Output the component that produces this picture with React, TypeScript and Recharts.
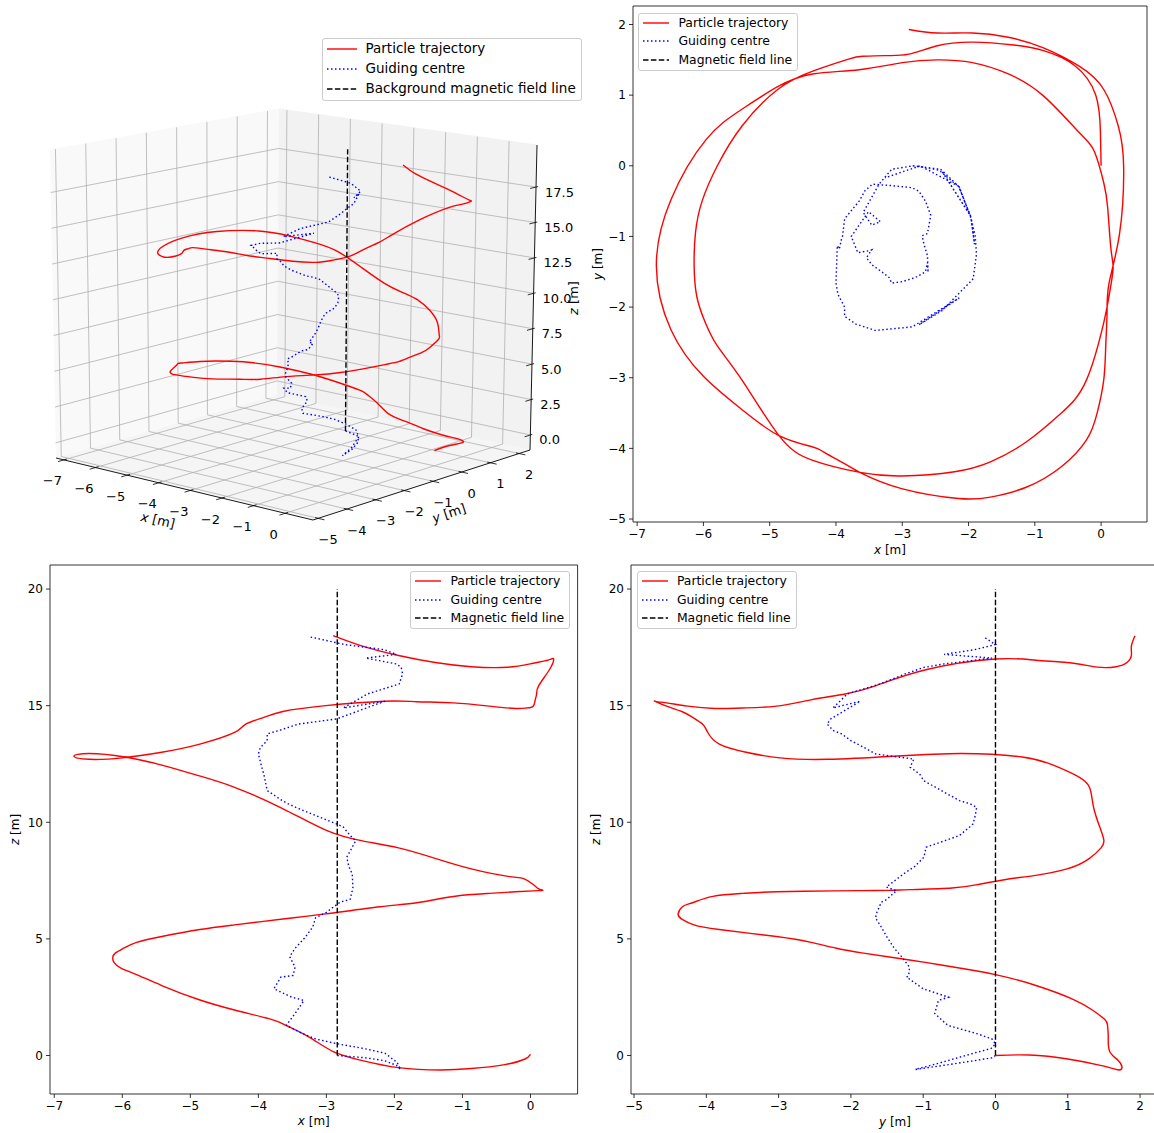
import React from "react";
import {
  LineChart,
  Line,
  XAxis,
  YAxis,
  Legend,
  ReferenceArea,
  ScatterChart,
  Scatter,
} from "recharts";

const FONT = '"DejaVu Sans", "Liberation Sans", sans-serif';
const RED = "#ff0000";
const BLUE = "#0000ff";
const BLACK = "#000000";
const DOTTED = "1.5 2.5";
const DASHED = "5.5 2.4";

// particle trajectory [x, y, z] in metres, in time order
const trajectory: number[][] = [
  [0, 0, 0], [-0.01, 0.47, 0.02], [-0.08, 1.0, -0.15], [-0.4, 1.42, -0.4],
  [-0.87, 1.63, -0.56], [-1.32, 1.71, -0.62], [-1.94, 1.75, -0.52], [-2.47, 1.7, -0.22],
  [-2.9, 1.58, 0.17], [-3.26, 1.56, 0.8], [-3.6, 1.55, 1.3], [-3.81, 1.51, 1.55],
  [-4.35, 1.34, 1.95], [-4.88, 1.08, 2.4], [-5.42, 0.56, 3.0], [-5.79, 0.0, 3.47],
  [-6.02, -0.5, 3.75], [-6.12, -0.95, 3.98], [-6.14, -1.42, 4.2], [-6.1, -1.85, 4.4],
  [-5.98, -2.2, 4.6], [-5.79, -2.55, 4.85], [-5.42, -3.03, 5.1], [-4.86, -3.82, 5.4],
  [-4.35, -4.17, 5.6], [-3.64, -4.34, 5.85], [-3.01, -4.39, 6.07], [-2.21, -4.33, 6.38],
  [-1.67, -4.19, 6.55], [-1.13, -3.91, 6.82], [-0.6, -3.5, 6.95], [-0.22, -3.03, 7.02],
  [0.04, -2.22, 7.06], [0.12, -1.84, 7.07], [0.18, -1.47, 7.08], [0.15, -1.19, 7.11],
  [0.1, -0.6, 7.18], [0.04, -0.24, 7.33], [-0.1, 0.2, 7.58], [-0.33, 0.47, 7.68],
  [-0.87, 0.99, 8.0], [-1.4, 1.3, 8.45], [-1.94, 1.46, 8.9], [-2.47, 1.5, 9.2],
  [-3.0, 1.46, 9.65], [-3.65, 1.36, 10.6], [-4.35, 1.3, 11.5], [-4.88, 1.12, 12.0],
  [-5.42, 0.8, 12.45], [-5.96, 0.37, 12.8], [-6.49, -0.48, 12.95], [-6.71, -1.42, 12.83],
  [-6.49, -2.32, 12.7], [-6.0, -2.98, 12.76], [-5.42, -3.45, 13.0], [-4.86, -3.82, 13.35],
  [-4.35, -3.98, 13.85], [-4.19, -4.05, 14.2], [-3.92, -4.19, 14.5], [-3.64, -4.34, 14.75],
  [-3.01, -4.57, 15.0], [-2.15, -4.71, 15.19], [-1.67, -4.69, 15.17], [-1.13, -4.55, 15.12],
  [-0.6, -4.26, 14.98], [-0.22, -3.88, 14.88], [-0.06, -3.5, 14.9], [0.04, -3.03, 14.98],
  [0.07, -2.55, 15.25], [0.09, -2.08, 15.5], [0.12, -1.66, 15.85], [0.28, -0.95, 16.55],
  [0.34, 0.0, 17.0], [0.26, 0.56, 16.95], [0.04, 1.08, 16.82], [-0.33, 1.41, 16.65],
  [-0.87, 1.67, 16.67], [-1.4, 1.82, 16.85], [-1.94, 1.88, 17.15], [-2.47, 1.88, 17.55],
  [-2.9, 1.93, 18.0],
];

// guiding centre [x, y, z]
const guidingCentre: number[][] = [
  [-2.84, 0.0, 0.0], [-2.42, -0.05, -0.1], [-2.15, -0.29, -0.22], [-1.97, -0.71, -0.42],
  [-1.91, -1.11, -0.6], [-1.96, -0.75, -0.3], [-2.14, -0.3, 0.1], [-2.45, -0.06, 0.3],
  [-2.84, 0.0, 0.5], [-3.16, -0.05, 0.71], [-3.35, -0.26, 0.94], [-3.59, -0.66, 1.29],
  [-3.46, -0.84, 1.8], [-3.33, -0.79, 2.36], [-3.51, -0.65, 2.5], [-3.77, -1.0, 2.86],
  [-3.67, -1.23, 3.36], [-3.49, -1.2, 3.43], [-3.46, -1.19, 3.79], [-3.54, -1.3, 4.24],
  [-3.46, -1.4, 4.6], [-3.31, -1.5, 5.07], [-3.2, -1.58, 5.51], [-3.16, -1.66, 5.9],
  [-3.0, -1.64, 6.14], [-2.8, -1.58, 6.57], [-2.65, -1.5, 6.7], [-2.62, -1.37, 7.07],
  [-2.61, -1.51, 7.22], [-2.62, -1.27, 7.79], [-2.67, -1.12, 8.1], [-2.7, -0.99, 8.5],
  [-2.62, -0.96, 8.93], [-2.57, -0.7, 9.21], [-2.65, -0.5, 9.43], [-2.75, -0.36, 9.79],
  [-2.85, -0.31, 9.93], [-3.16, -0.28, 10.29], [-3.45, -0.26, 10.64], [-3.56, -0.35, 10.79],
  [-3.65, -0.5, 10.93], [-3.87, -0.75, 11.36], [-3.9, -0.99, 11.78], [-3.92, -1.05, 12.07],
  [-3.95, -1.18, 12.36], [-3.98, -1.13, 12.71], [-4.0, -1.66, 12.93], [-3.97, -1.82, 13.21],
  [-3.87, -2.0, 13.5], [-3.87, -2.13, 13.79], [-3.7, -2.24, 13.93], [-3.41, -2.33, 14.21],
  [-2.85, -2.28, 14.43], [-2.14, -1.87, 15.19], [-2.75, -2.25, 14.9], [-2.4, -2.05, 15.5],
  [-1.93, -1.6, 15.93], [-1.88, -1.25, 16.36], [-1.9, -0.99, 16.64], [-1.97, -0.71, 16.79],
  [-2.42, -0.05, 17.04], [-1.97, -0.71, 17.2], [-2.15, -0.29, 17.4], [-2.73, 0.0, 17.62],
  [-3.26, -0.17, 17.96],
];

// straight background field line
const fieldX = -2.84;
const fieldY = 0;
const fieldZ = [0, 20];

const xTicks = [-7, -6, -5, -4, -3, -2, -1, 0];
const yTicks = [-5, -4, -3, -2, -1, 0, 1, 2];
const zTicks = [0, 5, 10, 15, 20];
const zTicks3d = [0, 2.5, 5, 7.5, 10, 12.5, 15, 17.5];

const fmt = (t: number) => (t < 0 ? "\u2212" + Math.abs(t) : String(t));

// 5% margins like matplotlib autoscale
const padded = (vals: number[]): [number, number] => {
  const lo = Math.min(...vals);
  const hi = Math.max(...vals);
  const m = 0.05 * (hi - lo);
  return [lo - m, hi + m];
};
const xDomain = padded([...trajectory.map((p) => p[0]), ...guidingCentre.map((p) => p[0]), fieldX]);
const yDomain = padded([...trajectory.map((p) => p[1]), ...guidingCentre.map((p) => p[1]), fieldY]);
const zDomain = padded([...trajectory.map((p) => p[2]), ...guidingCentre.map((p) => p[2]), ...fieldZ]);

type Item = { name: string; color: string; dash?: string };

function MplLegend({ items, fontSize, lineLen, rowH, gap }: { items: Item[]; fontSize: number; lineLen: number; rowH: number; gap: number }) {
  return (
    <div
      style={{
        boxSizing: "border-box",
        width: "100%",
        height: "100%",
        background: "rgba(255,255,255,0.8)",
        border: "1px solid #cccccc",
        borderRadius: 3,
        paddingLeft: 4,
        fontFamily: FONT,
        fontSize,
        color: "#000",
      }}
    >
      {items.map((it) => (
        <div key={it.name} style={{ display: "flex", alignItems: "center", height: rowH, whiteSpace: "nowrap" }}>
          <svg width={lineLen} height={6} style={{ flex: "none" }}>
            <line x1={0} y1={3} x2={lineLen} y2={3} stroke={it.color} strokeWidth={1.4} strokeDasharray={it.dash} />
          </svg>
          <span style={{ marginLeft: gap, lineHeight: 1 }}>{it.name}</span>
        </div>
      ))}
    </div>
  );
}

function AxisTitle(props: any) {
  const { viewBox, sym, vertical, gap } = props;
  if (!viewBox) return null;
  if (vertical) {
    const cx = viewBox.x + viewBox.width - gap;
    const cy = viewBox.y + viewBox.height / 2;
    return (
      <text x={cx} y={cy} transform={`rotate(-90, ${cx}, ${cy})`} textAnchor="middle" dominantBaseline="central" fontFamily={FONT} fontSize={12} fill="#000">
        <tspan fontStyle="italic">{sym}</tspan> [m]
      </text>
    );
  }
  const cx = viewBox.x + viewBox.width / 2;
  const cy = viewBox.y + gap;
  return (
    <text x={cx} y={cy} textAnchor="middle" dominantBaseline="central" fontFamily={FONT} fontSize={12} fill="#000">
      <tspan fontStyle="italic">{sym}</tspan> [m]
    </text>
  );
}

const legendItems2d: Item[] = [
  { name: "Particle trajectory", color: RED },
  { name: "Guiding centre", color: BLUE, dash: DOTTED },
  { name: "Magnetic field line", color: BLACK, dash: DASHED },
];

type Box = { left: number; top: number; width: number; height: number };

function Panel2D({ box, h, v, hDomain, vDomain, hTicks, vTicks, hSym, vSym, legendLeft, legendTop }: {
  box: Box; h: number; v: number; hDomain: [number, number]; vDomain: [number, number];
  hTicks: number[]; vTicks: number[]; hSym: string; vSym: string; legendLeft: number; legendTop: number;
}) {
  const padL = 60, padR = 12, padT = 6, padB = 44;
  const axisW = 45, axisH = 30;
  const W = box.width + padL + padR;
  const H = box.height + padT + padB;
  const left = box.left - padL;
  const top = box.top - padT;
  const traj = trajectory.map((p) => ({ h: p[h], v: p[v] }));
  const gc = guidingCentre.map((p) => ({ h: p[h], v: p[v] }));
  const fieldPts = fieldZ.map((z) => {
    const p = [fieldX, fieldY, z];
    return { h: p[h], v: p[v] };
  });
  const tickStyle = { fontSize: 12, fill: "#000", fontFamily: FONT };
  return (
    <div style={{ position: "absolute", left, top, width: W, height: H }}>
      <LineChart width={W} height={H} margin={{ top: padT, right: padR, bottom: padB - axisH, left: padL - axisW }}>
        <XAxis
          type="number"
          dataKey="h"
          domain={hDomain}
          ticks={hTicks}
          allowDataOverflow
          interval={0}
          height={axisH}
          tickSize={4}
          tickMargin={3}
          tick={tickStyle}
          tickLine={{ stroke: "#000", strokeWidth: 0.8 }}
          axisLine={false}
          tickFormatter={fmt}
          label={<AxisTitle sym={hSym} gap={27.5} />}
        />
        <YAxis
          type="number"
          domain={vDomain}
          ticks={vTicks}
          allowDataOverflow
          interval={0}
          width={axisW}
          tickSize={4}
          tickMargin={3}
          tick={tickStyle}
          tickLine={{ stroke: "#000", strokeWidth: 0.8 }}
          axisLine={false}
          tickFormatter={fmt}
          label={<AxisTitle sym={vSym} vertical gap={35} />}
        />
        <ReferenceArea
          x1={hDomain[0]}
          x2={hDomain[1]}
          y1={vDomain[0]}
          y2={vDomain[1]}
          fill="none"
          fillOpacity={0}
          stroke="#000"
          strokeWidth={0.8}
          ifOverflow="visible"
        />
        <Line data={traj} dataKey="v" type="natural" stroke={RED} strokeWidth={1.4} dot={false} isAnimationActive={false} />
        <Line data={gc} dataKey="v" type="linear" stroke={BLUE} strokeWidth={1.4} strokeDasharray={DOTTED} dot={false} isAnimationActive={false} />
        <Line data={fieldPts} dataKey="v" type="linear" stroke={BLACK} strokeWidth={1.4} strokeDasharray={DASHED} dot={false} isAnimationActive={false} />
        <Legend
          layout="horizontal"
          verticalAlign="middle"
          align="center"
          wrapperStyle={{ left: legendLeft - left, top: legendTop - top, width: 160, height: 58 }}
          content={() => <MplLegend items={legendItems2d} fontSize={12.4} lineLen={26} rowH={18.5} gap={9.4} />}
        />
      </LineChart>
    </div>
  );
}

// ---------- 3D panel ----------
const BOX3 = { x: [-7.25, 0.88], y: [-5.18, 2.38], z: [-1.06, 20.47] };
// screen corners of the 3D box, keyed by (x, y, z) low/high
const CORNER: Record<string, number[]> = {
  "000": [56, 458], "100": [313, 520], "110": [530, 450], "010": [277, 395],
  "001": [50, 150], "101": [313, 193], "111": [537, 145], "011": [279, 109],
};

function project(p: number[]) {
  const u = (p[0] - BOX3.x[0]) / (BOX3.x[1] - BOX3.x[0]);
  const v = (p[1] - BOX3.y[0]) / (BOX3.y[1] - BOX3.y[0]);
  const w = (p[2] - BOX3.z[0]) / (BOX3.z[1] - BOX3.z[0]);
  const bil = (k: string, i: number) =>
    (1 - u) * (1 - v) * CORNER["00" + k][i] + u * (1 - v) * CORNER["10" + k][i] +
    u * v * CORNER["11" + k][i] + (1 - u) * v * CORNER["01" + k][i];
  return {
    px: bil("0", 0) * (1 - w) + bil("1", 0) * w,
    py: bil("0", 1) * (1 - w) + bil("1", 1) * w,
  };
}

const [X0, X1] = BOX3.x;
const [Y0, Y1] = BOX3.y;
const [Z0, Z1] = BOX3.z;

const panes = [
  { fill: "#f9f9f9", pts: [[X0, Y0, Z0], [X0, Y1, Z0], [X0, Y1, Z1], [X0, Y0, Z1]] },
  { fill: "#f2f2f2", pts: [[X0, Y1, Z0], [X1, Y1, Z0], [X1, Y1, Z1], [X0, Y1, Z1]] },
  { fill: "#f5f5f5", pts: [[X0, Y0, Z0], [X1, Y0, Z0], [X1, Y1, Z0], [X0, Y1, Z0]] },
];

const grid3d: number[][][] = [
  ...yTicks.map((t) => [[X0, t, Z0], [X0, t, Z1]]),
  ...zTicks3d.map((t) => [[X0, Y0, t], [X0, Y1, t]]),
  ...xTicks.map((t) => [[t, Y1, Z0], [t, Y1, Z1]]),
  ...zTicks3d.map((t) => [[X0, Y1, t], [X1, Y1, t]]),
  ...xTicks.map((t) => [[t, Y0, Z0], [t, Y1, Z0]]),
  ...yTicks.map((t) => [[X0, t, Z0], [X1, t, Z0]]),
];

const axes3d: number[][][] = [
  [[X0, Y0, Z0], [X1, Y0, Z0]],
  [[X1, Y0, Z0], [X1, Y1, Z0]],
  [[X1, Y1, Z0], [X1, Y1, Z1]],
];

const ticks3d: number[][][] = [
  ...xTicks.map((t) => [[t, Y0 + 0.1, Z0], [t, Y0 - 0.2, Z0]]),
  ...yTicks.map((t) => [[X1 - 0.1, t, Z0], [X1 + 0.2, t, Z0]]),
  ...zTicks3d.map((t) => [[X1, Y1 + 0.07, t], [X1, Y1 - 0.2, t]]),
];

const texts3d = [
  ...xTicks.map((t) => ({ at: [t, Y0, Z0], text: fmt(t), dx: -11.5, dy: 21, anchor: "middle", rot: 0, sym: "" })),
  ...yTicks.map((t) => ({ at: [X1, t, Z0], text: fmt(t), dx: 10, dy: 21, anchor: "middle", rot: 0, sym: "" })),
  ...zTicks3d.map((t) => ({ at: [X1, Y1, t], text: t.toFixed(1), dx: 9, dy: 5, anchor: "start", rot: 0, sym: "" })),
  { at: [(X0 + X1) / 2, Y0, Z0], text: " [m]", sym: "x", dx: -26.5, dy: 31, anchor: "middle", rot: 13.6 },
  { at: [X1, (Y0 + Y1) / 2, Z0], text: " [m]", sym: "y", dx: 27.5, dy: 28, anchor: "middle", rot: -18 },
  { at: [X1, Y1, (Z0 + Z1) / 2], text: " [m]", sym: "z", dx: 39.5, dy: 0.5, anchor: "middle", rot: -90 },
].map((t) => ({ ...t, ...project(t.at) }));

const legendItems3d: Item[] = [
  { name: "Particle trajectory", color: RED },
  { name: "Guiding centre", color: BLUE, dash: DOTTED },
  { name: "Background magnetic field line", color: BLACK, dash: DASHED },
];

const noDot = () => <g />;

function path3d(key: string, pts: number[][], line: any, curve: any = "linear") {
  return (
    <Scatter
      key={key}
      data={pts.map(project)}
      line={line}
      lineJointType={curve}
      shape={noDot}
      legendType="none"
      isAnimationActive={false}
    />
  );
}

function TextShape(props: any) {
  const { cx, cy, payload } = props;
  if (cx == null || !payload) return <g />;
  const x = cx + payload.dx;
  const y = cy + payload.dy;
  return (
    <text
      x={x}
      y={y}
      textAnchor={payload.anchor}
      dominantBaseline="central"
      transform={payload.rot ? `rotate(${payload.rot}, ${x}, ${y})` : undefined}
      fontFamily={FONT}
      fontSize={13}
      fill="#000"
    >
      {payload.sym ? <tspan fontStyle="italic">{payload.sym}</tspan> : null}
      {payload.text}
    </text>
  );
}

function Panel3D() {
  const W = 590, H = 550;
  return (
    <div style={{ position: "absolute", left: 0, top: 0, width: W, height: H }}>
      <ScatterChart width={W} height={H} margin={{ top: 0, right: 0, bottom: 0, left: 0 }}>
        <XAxis type="number" dataKey="px" domain={[0, W]} hide allowDataOverflow />
        <YAxis type="number" dataKey="py" domain={[0, H]} hide reversed allowDataOverflow />
        {panes.map((p, i) => path3d("pane" + i, p.pts, { fill: p.fill, stroke: p.fill, strokeWidth: 1 }))}
        {grid3d.map((g, i) => path3d("grid" + i, g, { stroke: "#b0b0b0", strokeWidth: 0.8 }))}
        {axes3d.map((g, i) => path3d("axis" + i, g, { stroke: "#000", strokeWidth: 0.9 }))}
        {ticks3d.map((g, i) => path3d("tick" + i, g, { stroke: "#000", strokeWidth: 0.8 }))}
        {path3d("traj", trajectory, { stroke: RED, strokeWidth: 1.4 }, "natural")}
        {path3d("gc", guidingCentre, { stroke: BLUE, strokeWidth: 1.4, strokeDasharray: DOTTED })}
        {path3d("field", fieldZ.map((z) => [fieldX, fieldY, z]), { stroke: BLACK, strokeWidth: 1.4, strokeDasharray: DASHED })}
        <Scatter data={texts3d} shape={<TextShape />} legendType="none" isAnimationActive={false} />
        <Legend
          layout="horizontal"
          verticalAlign="middle"
          align="center"
          wrapperStyle={{ left: 322, top: 38, width: 260, height: 63 }}
          content={() => <MplLegend items={legendItems3d} fontSize={13.5} lineLen={30} rowH={20} gap={8.5} />}
        />
      </ScatterChart>
    </div>
  );
}

export default function App() {
  return (
    <div style={{ position: "absolute", left: 0, top: 0, width: 1154, height: 1133, overflow: "hidden", background: "#fff" }}>
      <Panel3D />
      <Panel2D
        box={{ left: 633, top: 6, width: 514, height: 516 }}
        h={0}
        v={1}
        hDomain={xDomain}
        vDomain={yDomain}
        hTicks={xTicks}
        vTicks={yTicks}
        hSym="x"
        vSym="y"
        legendLeft={638}
        legendTop={12.7}
      />
      <Panel2D
        box={{ left: 50.4, top: 565, width: 527.6, height: 529 }}
        h={0}
        v={2}
        hDomain={xDomain}
        vDomain={zDomain}
        hTicks={xTicks}
        vTicks={zTicks}
        hSym="x"
        vSym="z"
        legendLeft={410}
        legendTop={571}
      />
      <Panel2D
        box={{ left: 631, top: 565, width: 528, height: 529 }}
        h={1}
        v={2}
        hDomain={yDomain}
        vDomain={zDomain}
        hTicks={yTicks}
        vTicks={zTicks}
        hSym="y"
        vSym="z"
        legendLeft={636.5}
        legendTop={571}
      />
    </div>
  );
}
